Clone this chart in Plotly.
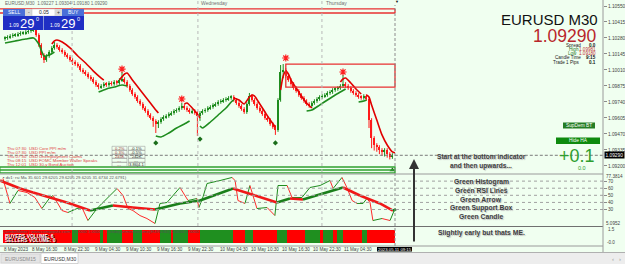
import plotly.graph_objects as go

# ---------------- DATA ----------------
PIP = 0.0001
PIP_BASE = 1.09000          # candle values below are pips above 1.09000

# 150 M30 bars, bar 0 = 8 May 2023 11:00
open_pips = [127.2,128.0,128.8,129.7,130.5,130.5,131.4,132.2,132.2,133.1,
             133.9,134.7,135.6,130.5,122.1,113.6,109.4,112.8,116.2,119.6,
             122.1,120.4,117.9,116.2,113.6,112.0,109.4,107.7,106.0,104.4,
             101.0,99.3,97.6,95.1,93.4,90.9,88.3,86.6,87.5,89.2,
             88.3,90.0,89.2,90.9,90.0,92.5,93.4,90.9,87.5,84.1,
             80.7,78.2,74.8,72.3,68.9,66.4,63.0,60.5,57.9,55.4,
             57.1,59.6,61.3,62.2,63.8,64.7,66.4,67.2,68.9,70.6,
             68.9,67.2,65.5,66.4,64.7,62.2,64.7,66.4,67.2,68.9,
             69.8,71.4,72.3,74.0,74.8,75.7,76.5,77.4,78.2,75.7,
             73.1,70.6,68.1,65.5,72.3,79.0,75.7,72.3,68.9,66.4,
             63.8,60.5,58.8,55.4,52.9,50.3,75.7,99.3,101.0,95.9,
             92.5,89.2,85.8,83.3,79.9,77.4,74.8,72.3,70.6,73.1,
             74.8,76.5,78.2,79.0,79.9,81.6,82.4,84.1,85.0,85.8,
             87.5,89.2,87.5,85.8,83.3,81.6,79.9,78.2,77.4,79.0,
             76.5,58.8,43.6,37.7,36.0,33.5,31.8,33.5,30.1,27.6]
high_pips = [129.5,130.3,131.2,132.0,132.0,132.9,133.7,133.7,134.6,135.4,
             136.2,137.6,137.1,132.0,123.6,115.1,114.3,117.7,121.1,124.6,
             123.6,121.9,119.4,117.7,115.1,113.5,110.9,109.2,107.5,105.9,
             102.5,100.8,99.1,96.6,94.9,92.4,89.8,89.0,90.7,90.7,
             91.5,91.5,92.4,92.4,94.0,99.3,94.9,92.4,89.0,85.6,
             82.2,79.7,76.3,73.8,70.4,67.9,64.5,62.0,59.4,58.6,
             61.1,62.8,63.7,65.3,66.2,67.9,68.7,70.4,73.1,72.1,
             70.4,68.7,67.9,67.9,66.2,66.2,67.9,68.7,70.4,71.3,
             72.9,73.8,75.5,76.3,77.2,78.0,78.9,79.7,79.7,77.2,
             74.6,72.1,69.6,73.8,81.6,80.5,77.2,73.8,70.4,67.9,
             65.3,62.0,60.3,56.9,54.4,77.2,105.2,106.0,102.5,97.4,
             94.0,90.7,87.3,84.8,81.4,78.9,76.3,73.8,74.6,76.3,
             78.0,79.7,80.5,81.4,83.1,83.9,85.6,86.5,87.3,89.0,
             96.8,90.7,89.0,87.3,84.8,83.1,81.4,79.7,80.5,80.5,
             78.0,60.3,45.1,39.2,37.5,35.0,35.0,35.0,31.6,30.7]
low_pips = [125.7,126.5,127.3,128.2,129.0,129.0,129.9,130.7,130.7,131.6,
            132.4,133.2,129.0,120.6,111.1,106.9,107.9,111.3,114.7,118.1,
            118.9,116.4,114.7,112.1,110.5,107.9,105.2,104.5,102.9,99.5,
            97.8,96.1,93.6,91.9,89.4,86.8,84.6,85.1,86.0,86.8,
            86.8,87.7,87.7,88.5,88.5,91.0,89.4,86.0,82.6,79.2,
            76.7,73.3,70.8,67.4,64.9,61.5,59.0,53.0,47.8,52.0,
            55.6,58.1,59.8,60.7,62.3,63.2,64.9,65.7,67.4,67.4,
            65.7,64.0,64.0,63.2,45.3,58.0,63.2,64.9,65.7,67.4,
            68.3,69.9,70.8,72.5,73.3,74.2,75.0,75.9,74.2,71.6,
            69.1,66.6,64.0,64.0,70.8,74.2,70.8,67.4,64.9,62.3,
            59.0,57.3,53.9,51.4,46.2,48.8,74.2,94.0,94.4,91.0,
            87.7,84.3,81.8,78.4,75.9,73.3,70.8,69.1,69.1,71.6,
            73.3,75.0,76.7,77.5,78.4,80.1,80.9,82.6,83.5,84.3,
            86.0,86.0,84.3,81.8,80.1,78.4,76.7,75.9,75.9,75.0,
            52.0,35.0,33.0,32.0,30.0,28.5,28.0,27.0,25.5,26.0]
close_pips = [128.0,128.8,129.7,130.5,130.5,131.4,132.2,132.2,133.1,133.9,
              134.7,135.6,130.5,122.1,113.6,109.4,112.8,116.2,119.6,122.1,
              120.4,117.9,116.2,113.6,112.0,109.4,107.7,106.0,104.4,101.0,
              99.3,97.6,95.1,93.4,90.9,88.3,86.6,87.5,89.2,88.3,
              90.0,89.2,90.9,90.0,92.5,93.4,90.9,87.5,84.1,80.7,
              78.2,74.8,72.3,68.9,66.4,63.0,60.5,57.9,55.4,57.1,
              59.6,61.3,62.2,63.8,64.7,66.4,67.2,68.9,70.6,68.9,
              67.2,65.5,66.4,64.7,62.2,64.7,66.4,67.2,68.9,69.8,
              71.4,72.3,74.0,74.8,75.7,76.5,77.4,78.2,75.7,73.1,
              70.6,68.1,65.5,72.3,79.0,75.7,72.3,68.9,66.4,63.8,
              60.5,58.8,55.4,52.9,50.3,75.7,99.3,101.0,95.9,92.5,
              89.2,85.8,83.3,79.9,77.4,74.8,72.3,70.6,73.1,74.8,
              76.5,78.2,79.0,79.9,81.6,82.4,84.1,85.0,85.8,87.5,
              89.2,87.5,85.8,83.3,81.6,79.9,78.2,77.4,79.0,76.5,
              58.8,43.6,37.7,36.0,33.5,31.8,33.5,30.1,27.6,29.2]

# trend band (colour, bar index, pips)
band_segments = [
    ("g", [0, 4, 8, 11, 13, 15, 17, 19], [123.8, 125.5, 127.1, 128.0, 122.9, 112.8, 113.6, 116.2]),
    ("r", [18, 19, 20, 22, 25, 28, 31, 34, 37, 38], [122.9, 125.5, 126.3, 124.6, 119.6, 112.8, 106.9, 100.1, 94.2, 92.5]),
    ("g", [36, 39, 42, 45, 47], [82.4, 85.0, 86.6, 88.3, 87.5]),
    ("r", [44, 46, 47, 49, 52, 55, 58, 59], [92.5, 97.6, 98.4, 92.5, 84.1, 75.7, 67.2, 64.7]),
    ("g", [58, 60, 63, 66, 69, 71], [45.3, 44.5, 47.8, 52.0, 55.4, 57.9]),
    ("r", [69, 70, 72, 74, 75], [72.3, 73.1, 68.9, 63.8, 60.5]),
    ("g", [75, 76, 79, 82, 85, 87, 88], [53.7, 52.0, 57.1, 63.0, 68.9, 74.0, 75.7]),
    ("r", [88, 90, 92, 94, 95, 96, 98, 100, 102, 104], [77.4, 75.7, 72.3, 78.2, 79.9, 79.0, 72.3, 65.5, 58.8, 52.9]),
    ("r", [106, 107, 108, 109, 110, 112, 114, 116, 118], [84.1, 95.9, 100.1, 97.6, 92.5, 85.8, 79.0, 73.1, 68.9]),
    ("g", [116, 118, 121, 124, 127, 129, 131], [66.4, 67.2, 71.4, 75.7, 79.9, 82.4, 85.0]),
    ("r", [129, 130, 131, 133, 135, 137], [90.9, 93.4, 94.2, 90.0, 85.0, 80.7]),
    ("g", [136, 138, 139], [74.0, 74.8, 75.7]),
    ("r", [139, 140, 141, 143, 145, 147, 149, 150], [79.9, 78.2, 71.4, 58.8, 46.2, 37.7, 31.8, 31.0]),
]

red_star_bars = [45, 68, 108, 130]
red_star_pips = [101.8, 76.5, 111.1, 99.3]
green_arrow_bars = [58, 75, 104]
green_arrow_pips = [39.4, 42.7, 39.4]

price_ticks = [1.10550, 1.10415, 1.10280, 1.10145, 1.10010, 1.09875,
               1.09740, 1.09605, 1.09470, 1.09335, 1.09200]
current_price = 1.09290

red_zone_top = [1.10525, 1.10491]          # bars -2 .. 150
red_box = [108, 150, 1.10060, 1.09866]
green_box = [1.09191, 1.09166, 1.09141]     # bars -2 .. 150

# RSI (thin) and its moving average (thick)
rsi_bars = [-0.8, 1.9, 5.0, 8.5, 11.5, 14.2, 17.3, 18.5, 21.9, 24.2, 27.7, 29.6, 31.9, 35.4,
            37.3, 43.1, 45.4, 47.3, 49.2, 51.9, 54.6, 57.7, 59.6, 62.3, 67.3, 70.4, 73.8,
            74.6, 76.2, 77.7, 82.7, 87.3, 88.5, 89.6, 92.3, 94.2, 96.9, 100.8, 103.8, 105.0,
            108.5, 110.4, 114.2, 117.3, 121.2, 125.0, 126.2, 129.6, 131.5, 133.5, 135.4,
            137.7, 139.2, 140.4, 141.5, 145.0, 148.1, 150.0]
rsi_vals = [73.7, 38.5, 56.8, 53.9, 46.9, 31.4, 46.9, 49.7, 28.6, 25.8, 31.4, 32.8, 14.5, 31.4,
            38.5, 59.6, 49.7, 31.4, 28.6, 21.5, 17.3, 10.3, 38.5, 39.9, 61.0, 42.7, 45.5,
            32.8, 48.3, 66.6, 70.8, 75.1, 70.8, 42.7, 38.5, 63.8, 31.4, 32.8, 21.5, 63.8,
            63.8, 46.9, 46.9, 61.0, 63.8, 70.8, 59.6, 75.1, 61.0, 42.7, 38.5,
            38.5, 45.5, 39.9, 14.5, 17.3, 14.5, 31.4]
rsi_ma_bars = [-1.9, 5.8, 10.8, 17.3, 23.8, 32.7, 41.5, 49.2, 57.7, 67.3, 75.0, 87.7, 96.2,
               104.6, 109.6, 114.6, 130.0, 136.5, 144.2, 149.2, 150.4]
rsi_ma_vals = [70.8, 59.6, 53.9, 46.9, 39.9, 28.6, 35.6, 32.8, 30.0, 38.5, 42.7, 59.6, 49.7,
               39.9, 45.5, 44.1, 61.0, 49.7, 38.5, 28.6, 30.0]
rsi_levels = [70, 60, 50, 40, 30]

# buyers / sellers volume colour bar (segment edges in bars, +1 buyers / -1 sellers)
vol_edges = [-0.8, 25.8, 28.1, 36.5, 37.7, 39.2, 45.0, 49.2, 52.7, 59.6, 64.2, 64.6, 70.4, 75.0,
             87.7, 92.3, 95.4, 104.6, 108.5, 115.4, 121.2, 122.3, 126.2, 127.7, 130.0, 137.3,
             139.2, 150.0]
vol_side = [-1, 1, -1, 1, -1, 1, -1, 1, -1, 1, -1, 1, -1, 1, -1, 1, -1, 1, -1, 1, -1, 1, -1, 1,
            -1, 1, -1]

day_lines = [25.8, 74.2, 121.9]
time_tick_bars = [0, 11, 23, 35, 47, 59, 71, 83, 95, 107, 119, 131]
time_tick_text = ["8 May 2023", "8 May 16:30", "8 May 22:30", "9 May 04:30", "9 May 10:30",
                  "9 May 16:30", "9 May 22:30", "10 May 04:30", "10 May 10:30",
                  "10 May 16:30", "10 May 22:30", "11 May 04:30"]

calendar = [("Thu 07:30", "USD", "Core PPI m/m", "0.2%", "-0.1%"),
            ("Thu 07:30", "USD", "PPI m/m", "0.3%", "-0.5%"),
            ("Thu 07:30", "USD", "Unemployment Claims", "245K", "242K"),
            ("Thu 08:15", "USD", "FOMC Member Waller Speaks", "---", "---"),
            ("Thu 12:01", "USD", "30-y Bond Auction", "---", "3.86|4.1")]

notes = ["Green Histogram", "Green RSI Lines", "Green Arrow", "Green Support Box", "Green Candle"]

# ---------------- STYLE / LAYOUT HELPERS ----------------
BG = "#F0FFF0"
GREEN = "#1E8C1E"
RED = "#FF1A1A"
FONT = "Liberation Sans, Arial, sans-serif"
PR = 603.0   # right edge of plot area (px)
PB = 246.0   # bottom edge of plot area (px)


def px(x):
    return x / PR


def py(y):
    return (PB - y) / PB


def P(v):
    return PIP_BASE + v * PIP


shapes = []
annotations = []


def rect(x0, y0, x1, y1, fill, line=None, lw=0):
    shapes.append(dict(type="rect", xref="paper", yref="paper", x0=px(x0), x1=px(x1),
                       y0=py(y1), y1=py(y0), fillcolor=fill,
                       line=dict(color=line or fill, width=lw), layer="above"))


def hline(y, x0, x1, color, width=1, dash="solid"):
    shapes.append(dict(type="line", xref="paper", yref="paper", x0=px(x0), x1=px(x1),
                       y0=py(y), y1=py(y), line=dict(color=color, width=width, dash=dash)))


def text(x, y, s, size=6, color="#333", xa="left", bold=False, shadow=None, bg=None, fam=FONT):
    if bold:
        s = "<b>" + s + "</b>"
    d = dict(xref="paper", yref="paper", x=px(x), y=py(y), text=s, showarrow=False,
             xanchor=xa, yanchor="middle", font=dict(size=size, color=color, family=fam),
             borderpad=0)
    if shadow:
        d["font"]["shadow"] = shadow
    if bg:
        d["bgcolor"] = bg
    annotations.append(d)


fig = go.Figure()

# ---------- candles ----------
idx = list(range(len(close_pips)))
for up, col in ((True, GREEN), (False, RED)):
    wx, wy = [], []
    for i in idx:
        if (close_pips[i] >= open_pips[i]) == up:
            wx += [i, i, None]
            wy += [P(low_pips[i]), P(high_pips[i]), None]
    fig.add_trace(go.Scatter(x=wx, y=wy, mode="lines", line=dict(color=col, width=1),
                             hoverinfo="skip"))
body_col = [GREEN if close_pips[i] >= open_pips[i] else RED for i in idx]
fig.add_trace(go.Bar(x=idx, base=[P(o) for o in open_pips],
                     y=[(c - o) * PIP if abs(c - o) > 0.3 else 0.00004 for o, c in zip(open_pips, close_pips)],
                     width=0.58, marker=dict(color=body_col, line=dict(width=0)), hoverinfo="skip"))

# ---------- band ----------
for c, bx, bv in band_segments:
    fig.add_trace(go.Scatter(x=bx, y=[P(v) for v in bv], mode="lines",
                             line=dict(color=GREEN if c == "g" else "#E00000", width=1.6, shape="spline",
                                       smoothing=0.6),
                             hoverinfo="skip"))

fig.add_trace(go.Scatter(x=red_star_bars, y=[P(v) for v in red_star_pips], mode="markers",
                         marker=dict(symbol="asterisk-open", size=6, color="#FF2020",
                                     line=dict(color="#FF2020", width=1.2)), hoverinfo="skip"))
fig.add_trace(go.Scatter(x=green_arrow_bars, y=[P(v) for v in green_arrow_pips], mode="markers",
                         marker=dict(symbol="diamond", size=4, color="#1A6E1A"), hoverinfo="skip"))
fig.add_trace(go.Scatter(x=[149], y=[green_box[1]], mode="markers",
                         marker=dict(symbol="triangle-up", size=5, color="#1A6E1A"), hoverinfo="skip"))

# ---------- RSI ----------
for k in range(len(rsi_bars) - 1):
    up = rsi_vals[k + 1] >= rsi_vals[k]
    fig.add_trace(go.Scatter(x=rsi_bars[k:k + 2], y=rsi_vals[k:k + 2], mode="lines", yaxis="y2",
                             line=dict(color="#1E8C1E" if up else "#FF2A2A", width=1), hoverinfo="skip"))
for k in range(len(rsi_ma_bars) - 1):
    up = rsi_ma_vals[k + 1] >= rsi_ma_vals[k]
    fig.add_trace(go.Scatter(x=rsi_ma_bars[k:k + 2], y=rsi_ma_vals[k:k + 2], mode="lines", yaxis="y2",
                             line=dict(color="#1A7F1A" if up else "#F01818", width=2.6), hoverinfo="skip"))

# ---------- volume bar ----------
mids = [(vol_edges[k] + vol_edges[k + 1]) / 2 for k in range(len(vol_side))]
wids = [vol_edges[k + 1] - vol_edges[k] for k in range(len(vol_side))]
fig.add_trace(go.Bar(x=mids, y=[1] * len(mids), base=0, width=wids, yaxis="y3",
                     marker=dict(color=["#1F8F1F" if s > 0 else "#FF0000" for s in vol_side],
                                 line=dict(width=0)), hoverinfo="skip"))

# ---------- chart objects (price-level drawings) ----------
for yv in red_zone_top:
    shapes.append(dict(type="line", xref="x", yref="y", x0=-2, x1=150, y0=yv, y1=yv,
                       line=dict(color="#E83030", width=1.3)))
shapes.append(dict(type="line", xref="x", yref="y", x0=150, x1=150, y0=red_zone_top[0],
                   y1=red_zone_top[1], line=dict(color="#E83030", width=1.3)))
shapes.append(dict(type="rect", xref="x", yref="y", x0=red_box[0], x1=red_box[1], y0=red_box[2],
                   y1=red_box[3], line=dict(color="#E83030", width=1.3)))
shapes.append(dict(type="rect", xref="x", yref="y", x0=-2, x1=150, y0=green_box[0], y1=green_box[2],
                   line=dict(color="#2EA02E", width=1.3)))
shapes.append(dict(type="line", xref="x", yref="y", x0=-2, x1=150, y0=green_box[1], y1=green_box[1],
                   line=dict(color="#2EA02E", width=1.3)))
shapes.append(dict(type="line", xref="x", yref="y", x0=-2, x1=231, y0=current_price, y1=current_price,
                   line=dict(color="#7A7A7A", width=1, dash="3px,2px")))
for d in day_lines:
    shapes.append(dict(type="line", xref="x", yref="paper", x0=d, x1=d, y0=py(226), y1=py(1),
                       line=dict(color="#B8B8B8", width=1, dash="dot")))
shapes.append(dict(type="line", xref="x", yref="paper", x0=150, x1=150, y0=py(246), y1=py(5),
                   line=dict(color="#8C8C8C", width=1, dash="3px,2px")))
for lv in rsi_levels:
    shapes.append(dict(type="line", xref="paper", yref="y2", x0=0, x1=1, y0=lv, y1=lv,
                       line=dict(color="#A0A0A0", width=1, dash="dot")))

# panel borders
hline(174, 0, PR, "#9A9A9A", 1)
hline(226.5, 0, PR, "#707070", 1)
hline(246, 0, PR, "#9A9A9A", 1)
shapes.append(dict(type="line", xref="paper", yref="paper", x0=px(PR), x1=px(PR), y0=py(252), y1=1,
                   line=dict(color="#9A9A9A", width=1)))

# ---------- top-left trade panel ----------
text(4, 3, "EURUSD,M30  1.09227 1.09304 1.09180 1.09290", 4.6, "#6A6A6A")
rect(3, 9, 25, 16, "#4A6FD8")
rect(25, 9, 32, 16, "#D8D8D8")
rect(32, 9, 55, 16, "#FFFFFF", "#BBBBBB", 0.5)
rect(55, 9, 62, 16, "#D8D8D8")
rect(62, 9, 84, 16, "#4A6FD8")
rect(3, 16, 43.5, 30, "#1F2FC4")
rect(44, 16, 84, 30, "#1F2FC4")
text(14, 12.5, "SELL", 5, "white", "center")
text(28.5, 12.5, "-", 5, "#333", "center")
text(43.5, 12.5, "0.05", 5, "#222", "center")
text(58.5, 12.5, "+", 5, "#333", "center")
text(73, 12.5, "BUY", 5, "white", "center")
for off in (0, 41):
    text(8 + off, 25.5, "1.09", 5, "white")
    text(19 + off, 23.5, "29", 13, "white")
    text(35 + off, 19, "0", 5.5, "white")

# day names / chart shift mark
text(200, 3, "Wednesday", 5, "#707070")
text(325, 3, "Thursday", 5, "#707070")
text(397, 1.5, "▼", 4, "#111", "center")

# ---------- top-right info ----------
IS = 4.6
text(599, 19.5, "EURUSD M30", 15, "#111", "right")
text(598, 36.5, "1.09290", 17.5, "#B8262B", "right")
text(582, 45, "Spread", IS, "#222", "right")
text(597, 45, "0.0", IS, "#111", "right", bold=True)
text(580, 49.3, "High", IS, "#2A7A2A", "right")
text(597, 49.3, "1.09981", IS, "#C03030", "right")
text(578, 53.6, "Low", IS, "#2A7A2A", "right")
text(597, 53.6, "1.09180", IS, "#C03030", "right")
text(582, 58, "Candle Time", IS, "#222", "right")
text(597, 58, "9:15", IS, "#111", "right", bold=True)
text(581, 62.3, "Trade 1 Pips", IS, "#222", "right")
text(597, 62.3, "0.1", IS, "#111", "right", bold=True)

rect(563, 122.5, 595, 128.5, "#247D24")
text(579, 125.5, "SupDem BT", 4.8, "white", "center")
rect(556, 137.5, 600, 144, "#0E8A0E")
text(578, 140.7, "Hide HA", 4.8, "white", "center")

text(596, 155.5, "+0.1", 18, "#2E9E2E", "right")
text(587, 168, "0.0", 5.5, "#2E9E2E", "right")

# ---------- instruction notes ----------
SH = "1px 1px 1px #BBBBBB"
text(481, 156, "Start at the bottom indicator", 6.6, "#404040", "center", True, SH)
text(481, 166, "and then upwards...", 6.6, "#404040", "center", True, SH)
for k, s in enumerate(notes):
    text(481, 182 + k * 8.5, s, 6.8, "#404040", "center", True, SH)
text(481, 233, "Slightly early but thats ME.", 6.8, "#404040", "center", True, SH)
annotations.append(dict(xref="paper", yref="paper", x=px(414), y=py(159), ax=0, ay=84, text="",
                        showarrow=True, arrowhead=2, arrowsize=1, arrowwidth=2, arrowcolor="#333"))

# ---------- economic calendar ----------
for k, (t, cur, ev, a, b) in enumerate(calendar):
    yy = 148.3 + 4 * k
    text(6, yy, t, 4.3, "#E04040")
    text(28, yy, cur, 4.3, "#E04040")
    text(38, yy, ev, 4.3, "#E04040")
    rect(112, yy - 2, 127, yy + 2, "rgba(0,0,0,0)", "#909090", 0.5)
    rect(128.5, yy - 2, 145, yy + 2, "rgba(0,0,0,0)", "#909090", 0.5)
    text(119.5, yy, a, 4.1, "#A04040", "center")
    text(136.5, yy, b, 4.1, "#303030", "center")

# ---------- sub-window headers ----------
text(2, 177.5, "▪ dv1: rsi Ma 35.601 29.6205 29.6205 29.6205 31.6734 22.6791)", 4.3, "#555")
text(2, 231, "ComboMeter | www.compipsfx.com   0.0000 1.0000    Tickdepartmentvolume(EURUSD) 6.0000 0.0000",
     4.3, "#555")
text(4, 236, "BUYERS VOLUME: 6", 4.9, "white", bold=True, shadow="1px 1px 0px #000")
text(4, 240.8, "SELLERS VOLUME: 0", 4.9, "white", bold=True, shadow="1px 1px 0px #000")

# right-axis extra labels
text(605, 176.5, "77.3814", 4.6, "#444")
text(605, 223.5, "5.0952", 4.6, "#444")
text(607, 229, "1.5", 4.6, "#444")
text(606, 242, "-0.0", 4.6, "#444")
annotations.append(dict(xref="paper", yref="y", x=px(604), y=current_price, text="1.09290",
                        showarrow=False, xanchor="left", yanchor="middle", bgcolor="#000",
                        font=dict(size=4.8, color="white", family=FONT), borderpad=0.5))

# ---------- time axis ----------
for b, s in zip(time_tick_bars, time_tick_text):
    annotations.append(dict(xref="x", yref="paper", x=b - 1.2, y=py(249.5), text=s, showarrow=False,
                            xanchor="left", yanchor="middle",
                            font=dict(size=4.6, color="#444", family=FONT)))
rect(377, 247, 412, 251.5, "#000")
text(394.5, 249.3, "2023.05.11 09:15", 4.3, "white", "center")

# ---------- tab bar ----------
rect(0, 252.5, 625, 264, "#EDEDED")
hline(252.5, 0, 625, "#B0B0B0", 1)
rect(1, 254, 40, 263, "#E4E4E4", "#C8C8C8", 0.5)
rect(41, 253, 78, 263.5, "#FFFFFF", "#B0B0B0", 0.5)
text(20.5, 258.5, "EURUSDM15", 5, "#8A8A8A", "center")
text(59.5, 258.5, "EURUSD,M30", 5, "#333", "center")
text(613, 258.5, "‹", 6, "#999", "center")
text(620, 258.5, "›", 6, "#999", "center")

# ---------- layout ----------
axis_common = dict(showgrid=False, zeroline=False, side="right", anchor="x", ticks="outside",
                   ticklen=3, tickcolor="#8A8A8A", tickfont=dict(size=4.8, color="#444", family=FONT),
                   showline=False, fixedrange=True)
fig.update_layout(
    width=625, height=264, margin=dict(l=0, r=22, t=0, b=18),
    paper_bgcolor=BG, plot_bgcolor=BG, showlegend=False, barmode="overlay", bargap=0,
    xaxis=dict(range=[-1.923, 230.0], showgrid=False, zeroline=False, showticklabels=False,
               showline=False, ticks="", fixedrange=True),
    yaxis=dict(domain=[py(174), 1], range=[P(13.21), P(160.06)], tickvals=price_ticks,
               ticktext=["%.5f" % v for v in price_ticks], **axis_common),
    yaxis2=dict(domain=[py(226.5), py(174.5)], range=[6.1, 79.3], tickvals=rsi_levels,
                ticktext=[str(v) for v in rsi_levels], **axis_common),
    yaxis3=dict(domain=[0, py(227)], range=[-0.25, 1.2], showticklabels=False,
                **{k: v for k, v in axis_common.items() if k != "ticks"}, ticks=""),
    shapes=shapes, annotations=annotations,
)

fig.write_html("out.html")
